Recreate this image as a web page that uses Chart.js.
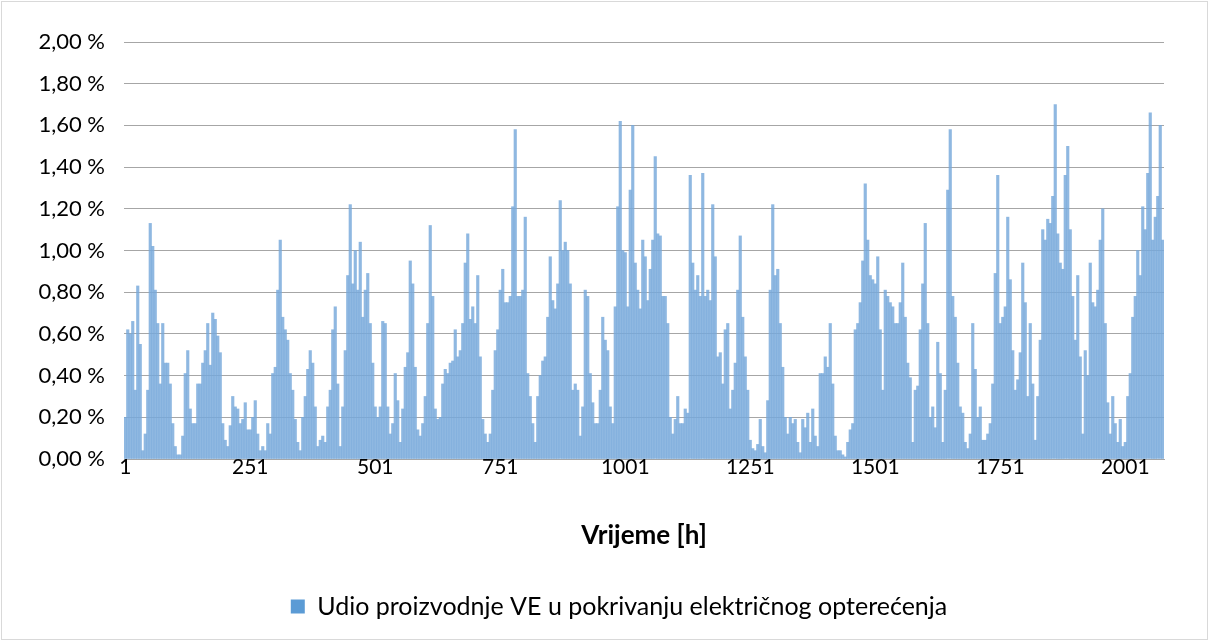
<!DOCTYPE html>
<html>
<head>
<meta charset="utf-8">
<title>Udio proizvodnje VE</title>
<script src="https://cdn.jsdelivr.net/npm/chart.js@4.4.1/dist/chart.umd.min.js"></script>
<style>
    html, body { margin: 0; padding: 0; background: #fff; }
    #wrap { width: 1209px; height: 641px; }
</style>
</head>
<body>
<div id="wrap"><canvas id="chart" width="1209" height="641"></canvas></div>
<script>
// one bar = 5 hours of the period
const STEP_HOURS = 5;

// y axis in percent
const yTicks = [0, 0.2, 0.4, 0.6, 0.8, 1.0, 1.2, 1.4, 1.6, 1.8, 2.0];

// hours that get a label on the time axis
const xTickHours = [1, 251, 501, 751, 1001, 1251, 1501, 1751, 2001];

// share of wind production in covering the electric load [%]
const shareVE = [
    0.20, 0.62, 0.60, 0.66, 0.33, 0.83, 0.55, 0.04, 0.12, 0.33,
    1.13, 1.02, 0.81, 0.65, 0.36, 0.65, 0.46, 0.46, 0.36, 0.17,
    0.06, 0.02, 0.02, 0.11, 0.41, 0.52, 0.24, 0.17, 0.17, 0.36,
    0.36, 0.46, 0.52, 0.65, 0.45, 0.70, 0.67, 0.59, 0.51, 0.17,
    0.09, 0.06, 0.16, 0.30, 0.25, 0.24, 0.17, 0.19, 0.27, 0.14,
    0.14, 0.20, 0.28, 0.12, 0.04, 0.06, 0.04, 0.17, 0.12, 0.41,
    0.44, 0.81, 1.05, 0.68, 0.62, 0.57, 0.41, 0.33, 0.19, 0.08,
    0.04, 0.20, 0.30, 0.43, 0.52, 0.46, 0.25, 0.06, 0.09, 0.11,
    0.08, 0.25, 0.33, 0.62, 0.73, 0.36, 0.06, 0.25, 0.52, 0.88,
    1.22, 0.84, 1.00, 0.81, 1.04, 0.68, 0.81, 0.89, 0.65, 0.46,
    0.25, 0.20, 0.25, 0.66, 0.65, 0.25, 0.12, 0.17, 0.41, 0.28,
    0.08, 0.24, 0.44, 0.51, 0.95, 0.84, 0.44, 0.14, 0.11, 0.17,
    0.30, 0.65, 1.12, 0.78, 0.24, 0.19, 0.20, 0.36, 0.43, 0.41,
    0.46, 0.47, 0.62, 0.49, 0.52, 0.65, 0.94, 1.08, 0.67, 0.73,
    0.65, 0.88, 0.49, 0.19, 0.12, 0.08, 0.12, 0.33, 0.52, 0.62,
    0.81, 0.91, 0.75, 0.75, 0.78, 1.21, 1.58, 0.78, 0.78, 0.81,
    1.16, 0.41, 0.30, 0.17, 0.08, 0.30, 0.40, 0.47, 0.49, 0.68,
    0.97, 0.76, 0.72, 0.84, 1.24, 1.00, 1.04, 1.00, 0.84, 0.33,
    0.36, 0.33, 0.11, 0.25, 0.81, 0.78, 0.41, 0.27, 0.17, 0.17,
    0.33, 0.68, 0.57, 0.52, 0.25, 0.17, 0.73, 1.21, 1.62, 1.00,
    0.99, 0.73, 1.29, 1.60, 0.94, 0.81, 0.72, 1.05, 0.97, 0.76,
    0.91, 1.05, 1.45, 1.08, 1.07, 0.78, 0.78, 0.65, 0.20, 0.12,
    0.19, 0.30, 0.17, 0.17, 0.24, 0.22, 1.36, 0.94, 0.81, 0.88,
    0.78, 1.37, 0.78, 0.81, 0.76, 1.22, 0.97, 0.49, 0.51, 0.36,
    0.62, 0.65, 0.24, 0.33, 0.46, 0.81, 1.07, 0.68, 0.49, 0.33,
    0.09, 0.05, 0.04, 0.07, 0.19, 0.06, 0.03, 0.28, 0.81, 1.22,
    0.88, 0.91, 0.65, 0.44, 0.20, 0.12, 0.20, 0.17, 0.19, 0.08,
    0.03, 0.19, 0.15, 0.22, 0.08, 0.24, 0.11, 0.06, 0.41, 0.41,
    0.49, 0.44, 0.65, 0.36, 0.11, 0.04, 0.04, 0.02, 0.01, 0.08,
    0.14, 0.17, 0.62, 0.65, 0.75, 0.95, 1.32, 1.05, 0.88, 0.86,
    0.84, 0.97, 0.62, 0.33, 0.81, 0.78, 0.75, 0.73, 0.65, 0.65,
    0.75, 0.94, 0.68, 0.46, 0.39, 0.08, 0.33, 0.35, 0.62, 0.84,
    1.13, 0.65, 0.20, 0.25, 0.15, 0.56, 0.41, 0.08, 0.33, 1.29,
    1.58, 0.78, 0.68, 0.46, 0.25, 0.22, 0.08, 0.05, 0.12, 0.65,
    0.43, 0.20, 0.25, 0.09, 0.09, 0.12, 0.17, 0.36, 0.89, 1.36,
    0.65, 0.68, 0.73, 1.16, 0.86, 0.52, 0.33, 0.38, 0.51, 0.94,
    0.75, 0.30, 0.65, 0.36, 0.09, 0.30, 0.57, 1.10, 1.05, 1.15,
    1.13, 1.26, 1.70, 1.08, 0.94, 0.91, 1.36, 1.50, 1.10, 0.78,
    0.57, 0.88, 0.49, 0.12, 0.52, 0.40, 0.94, 0.75, 0.73, 0.81,
    1.05, 1.20, 0.65, 0.27, 0.12, 0.30, 0.17, 0.08, 0.19, 0.06,
    0.08, 0.30, 0.41, 0.68, 0.78, 1.00, 0.88, 1.21, 1.10, 1.37,
    1.66, 1.05, 1.16, 1.26, 1.60, 1.05
];

// category labels: starting hour of each bar
const hours = shareVE.map((_, i) => String(1 + i * STEP_HOURS));

const FONT = 'Lato';
const fmtPct = v => Number(v).toFixed(2).replace('.', ',') + ' %';

// white background + thin frame around the whole figure
const framePlugin = {
    id: 'frame',
    beforeDraw(chart) {
        const ctx = chart.ctx;
        ctx.save();
        ctx.fillStyle = '#fff';
        ctx.fillRect(0, 0, chart.width, chart.height);
        ctx.strokeStyle = '#D9D9D9';
        ctx.lineWidth = 1;
        ctx.strokeRect(1.5, 1.5, chart.width - 3, chart.height - 3);
        ctx.restore();
    }
};

new Chart(document.getElementById('chart').getContext('2d'), {
    type: 'bar',
    data: {
        labels: hours,
        datasets: [{
            label: 'Udio proizvodnje VE u pokrivanju električnog opterećenja',
            data: shareVE,
            backgroundColor: 'rgba(118, 168, 218, 0.82)',
            borderWidth: 0,
            barPercentage: 1.0,
            categoryPercentage: 1.0,
            yAxisID: 'y',
        }]
    },
    options: {
        responsive: false,
        animation: false,
        layout: {
            padding: { left: 29, right: 0, top: 42, bottom: 12 }
        },
        plugins: {
            tooltip: { enabled: false },
            legend: {
                position: 'bottom',
                labels: {
                    color: '#000',
                    font: { family: FONT, size: 25 },
                    boxWidth: 14,
                    boxHeight: 14,
                    padding: 10,
                    generateLabels(chart) {
                        return chart.data.datasets.map((ds, i) => ({
                            text: ds.label,
                            fillStyle: '#5B9BD5',
                            strokeStyle: '#5B9BD5',
                            lineWidth: 0,
                            fontColor: '#000',
                            datasetIndex: i,
                        }));
                    }
                }
            }
        },
        scales: {
            x: {
                type: 'category',
                offset: true,
                grid: { display: false, drawTicks: false },
                border: { display: true, color: '#A6A6A6', width: 1 },
                ticks: {
                    autoSkip: false,
                    maxRotation: 0,
                    minRotation: 0,
                    padding: -4,
                    color: '#000',
                    font: { family: FONT, size: 21 },
                    callback(val, idx) {
                        const h = Number(hours[idx]);
                        return xTickHours.includes(h) ? hours[idx] : '';
                    }
                },
                title: {
                    display: true,
                    text: 'Vrijeme [h]',
                    color: '#000',
                    font: { family: FONT, size: 26, weight: 'bold' },
                    padding: { top: 0, bottom: 33 }
                },
                afterFit(scale) {
                    scale.height = 125;
                }
            },
            y: {
                min: 0,
                max: 2.0,
                afterBuildTicks(scale) {
                    scale.ticks = yTicks.map(v => ({ value: v }));
                },
                grid: { color: '#A6A6A6', lineWidth: 1, drawTicks: false },
                border: { display: false },
                ticks: {
                    padding: 19,
                    color: '#000',
                    font: { family: FONT, size: 22 },
                    callback: v => fmtPct(v)
                },
                afterFit(scale) {
                    scale.width = 95;
                }
            },
            // empty right-hand margin so the legend centres like the plot frame
            yRight: {
                position: 'right',
                display: true,
                grid: { display: false, drawTicks: false },
                border: { display: false },
                ticks: { display: false },
                afterFit(scale) {
                    scale.width = 45;
                }
            }
        }
    },
    plugins: [framePlugin]
});
</script>
</body>
</html>
